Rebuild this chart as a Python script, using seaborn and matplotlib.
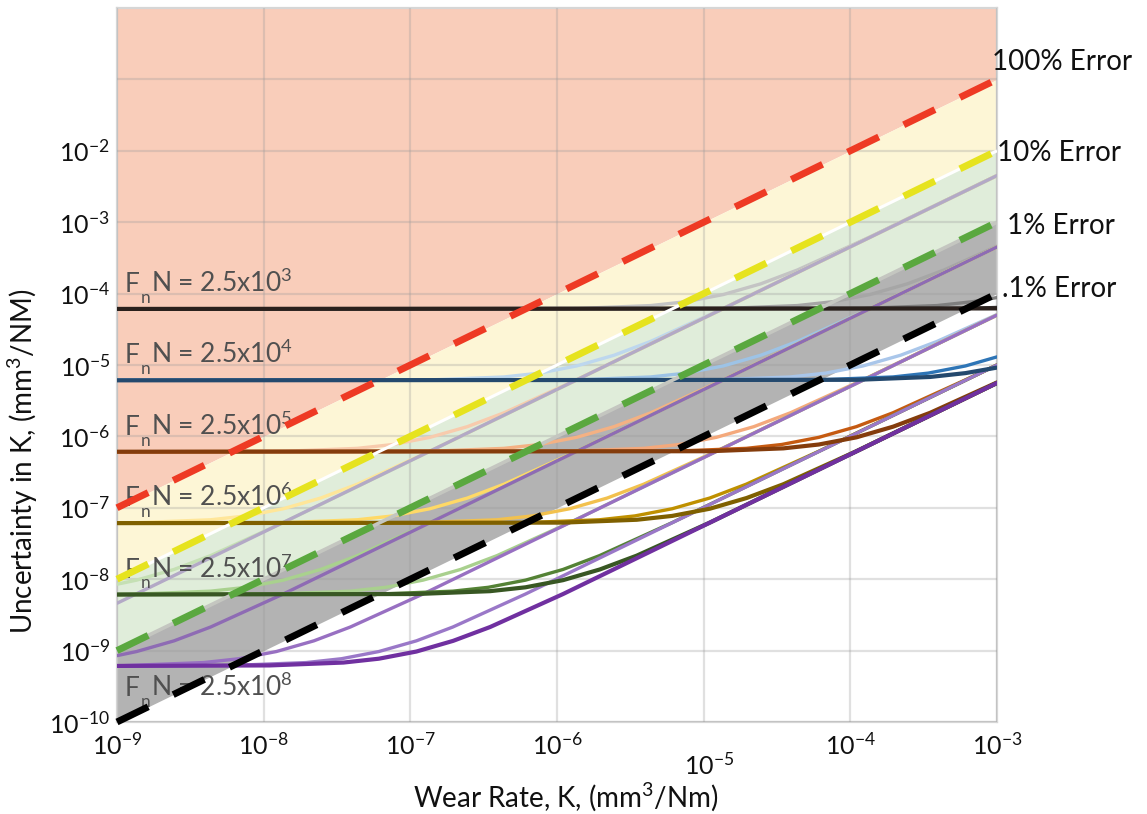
import matplotlib
matplotlib.use("Agg")
import matplotlib.pyplot as plt
import seaborn as sns

# ---------------- data ----------------
k_ref = [1e-9, 1e-3]
err_100 = [1e-7, 1e-1]
err_10 = [1e-8, 1e-2]
err_1 = [1e-9, 1e-3]
err_01 = [1e-10, 1e-4]
err_labels = ["100% Error", "10% Error", "1% Error", ".1% Error"]

x_ticks = [1e-9, 1e-8, 1e-7, 1e-6, 1e-5, 1e-4, 1e-3]
x_exp = ["-9", "-8", "-7", "-6", "-5", "-4", "-3"]
y_ticks = [1e-10, 1e-9, 1e-8, 1e-7, 1e-6, 1e-5, 1e-4, 1e-3, 1e-2, 1e-1]
y_exp = ["-10", "-9", "-8", "-7", "-6", "-5", "-4", "-3", "-2", ""]

load_exp = ["3", "4", "5", "6", "7", "8"]
floors = [6.1e-5, 6.1e-6, 6.1e-7, 6.1e-8, 6.1e-9, 6.1e-10]

# FnN = 2.5x10^3
g0_k = [[1e-9, 1.4e-6, 4.35e-6, 7.6e-6, 1.36e-5, 2.45e-5, 4.35e-5, 1.36e-4, 1e-3],
        [1e-9, 1.4e-5, 4.35e-5, 7.6e-5, 1.36e-4, 2.45e-4, 4.35e-4, 1e-3],
        [1e-9, 1.2e-4, 3.9e-4, 6.8e-4, 1e-3],
        [1e-9, 6.1e-4, 1e-3],
        [1e-9, 1e-3]]
g0_u = [[6.1e-5, 6.2e-5, 6.8e-5, 7.7e-5, 9.7e-5, 1.37e-4, 2.14e-4, 6.2e-4, 4.5e-3],
        [6.1e-5, 6.2e-5, 6.8e-5, 7.7e-5, 9.7e-5, 1.37e-4, 2.14e-4, 4.6e-4],
        [6.1e-5, 6.2e-5, 6.8e-5, 7.7e-5, 8.8e-5],
        [6.1e-5, 6.2e-5, 6.4e-5],
        [6.1e-5, 6.2e-5]]
# FnN = 2.5x10^4
g1_k = [[1e-9, 1.4e-7, 4.35e-7, 7.6e-7, 1.36e-6, 2.45e-6, 4.35e-6, 1.36e-5, 1e-3],
        [1e-9, 1.4e-6, 4.35e-6, 7.6e-6, 1.36e-5, 2.45e-5, 4.35e-5, 1.36e-4, 1e-3],
        [1e-9, 1.2e-5, 3.9e-5, 6.8e-5, 1.22e-4, 2.2e-4, 3.9e-4, 1e-3],
        [1e-9, 6.1e-5, 1.95e-4, 3.4e-4, 6.1e-4, 1e-3],
        [1e-9, 1.1e-4, 3.5e-4, 6.1e-4, 1e-3]]
g1_u = [[6.1e-6, 6.2e-6, 6.8e-6, 7.7e-6, 9.7e-6, 1.37e-5, 2.14e-5, 6.2e-5, 4.5e-3],
        [6.1e-6, 6.2e-6, 6.8e-6, 7.7e-6, 9.7e-6, 1.37e-5, 2.14e-5, 6.2e-5, 4.5e-4],
        [6.1e-6, 6.2e-6, 6.8e-6, 7.7e-6, 9.7e-6, 1.37e-5, 2.14e-5, 5.1e-5],
        [6.1e-6, 6.2e-6, 6.8e-6, 7.7e-6, 9.7e-6, 1.3e-5],
        [6.1e-6, 6.2e-6, 6.8e-6, 7.7e-6, 9.2e-6]]
# FnN = 2.5x10^5
g2_k = [[1e-9, 1.4e-8, 4.35e-8, 7.6e-8, 1.36e-7, 2.45e-7, 4.35e-7, 1.36e-6, 1e-3],
        [1e-9, 1.4e-7, 4.35e-7, 7.6e-7, 1.36e-6, 2.45e-6, 4.35e-6, 1.36e-5, 1e-3],
        [1e-9, 1.2e-6, 3.9e-6, 6.8e-6, 1.22e-5, 2.2e-5, 3.9e-5, 1.22e-4, 1e-3],
        [1e-9, 6.1e-6, 1.95e-5, 3.4e-5, 6.1e-5, 1.1e-4, 1.95e-4, 6.1e-4, 1e-3],
        [1e-9, 1.1e-5, 3.5e-5, 6.1e-5, 1.1e-4, 1.96e-4, 3.5e-4, 1e-3]]
g2_u = [[6.1e-7, 6.2e-7, 6.8e-7, 7.7e-7, 9.7e-7, 1.37e-6, 2.14e-6, 6.2e-6, 4.5e-3],
        [6.1e-7, 6.2e-7, 6.8e-7, 7.7e-7, 9.7e-7, 1.37e-6, 2.14e-6, 6.2e-6, 4.5e-4],
        [6.1e-7, 6.2e-7, 6.8e-7, 7.7e-7, 9.7e-7, 1.37e-6, 2.14e-6, 6.2e-6, 5e-5],
        [6.1e-7, 6.2e-7, 6.8e-7, 7.7e-7, 9.7e-7, 1.37e-6, 2.14e-6, 6.2e-6, 1e-5],
        [6.1e-7, 6.2e-7, 6.8e-7, 7.7e-7, 9.7e-7, 1.37e-6, 2.14e-6, 5.7e-6]]
# FnN = 2.5x10^6
g3_k = [[1e-9, 1.4e-9, 4.35e-9, 7.6e-9, 1.36e-8, 2.45e-8, 4.35e-8, 1.36e-7, 1e-3],
        [1e-9, 1.4e-8, 4.35e-8, 7.6e-8, 1.36e-7, 2.45e-7, 4.35e-7, 1.36e-6, 1e-3],
        [1e-9, 1.2e-7, 3.9e-7, 6.8e-7, 1.22e-6, 2.2e-6, 3.9e-6, 1.22e-5, 1e-3],
        [1e-9, 6.1e-7, 1.95e-6, 3.4e-6, 6.1e-6, 1.1e-5, 1.95e-5, 6.1e-5, 1e-3],
        [1e-9, 1.1e-6, 3.5e-6, 6.1e-6, 1.1e-5, 1.96e-5, 3.5e-5, 1.1e-4, 1e-3]]
g3_u = [[6.1e-8, 6.2e-8, 6.8e-8, 7.7e-8, 9.7e-8, 1.37e-7, 2.14e-7, 6.2e-7, 4.5e-3],
        [6.1e-8, 6.2e-8, 6.8e-8, 7.7e-8, 9.7e-8, 1.37e-7, 2.14e-7, 6.2e-7, 4.5e-4],
        [6.1e-8, 6.2e-8, 6.8e-8, 7.7e-8, 9.7e-8, 1.37e-7, 2.14e-7, 6.2e-7, 5e-5],
        [6.1e-8, 6.2e-8, 6.8e-8, 7.7e-8, 9.7e-8, 1.37e-7, 2.14e-7, 6.2e-7, 1e-5],
        [6.1e-8, 6.2e-8, 6.8e-8, 7.7e-8, 9.7e-8, 1.37e-7, 2.14e-7, 6.2e-7, 5.6e-6]]
# FnN = 2.5x10^7
g4_k = [[1e-9, 1.36e-9, 2.45e-9, 4.35e-9, 1.36e-8, 1e-3],
        [1e-9, 1.4e-9, 4.35e-9, 7.6e-9, 1.36e-8, 2.45e-8, 4.35e-8, 1.36e-7, 1e-3],
        [1e-9, 1.2e-8, 3.9e-8, 6.8e-8, 1.22e-7, 2.2e-7, 3.9e-7, 1.22e-6, 1e-3],
        [1e-9, 6.1e-8, 1.95e-7, 3.4e-7, 6.1e-7, 1.1e-6, 1.95e-6, 6.1e-6, 1e-3],
        [1e-9, 1.1e-7, 3.5e-7, 6.1e-7, 1.1e-6, 1.96e-6, 3.5e-6, 1.1e-5, 1e-3]]
g4_u = [[8.5e-9, 9.7e-9, 1.37e-8, 2.14e-8, 6.2e-8, 4.5e-3],
        [6.1e-9, 6.2e-9, 6.8e-9, 7.7e-9, 9.7e-9, 1.37e-8, 2.14e-8, 6.2e-8, 4.5e-4],
        [6.1e-9, 6.2e-9, 6.8e-9, 7.7e-9, 9.7e-9, 1.37e-8, 2.14e-8, 6.2e-8, 5e-5],
        [6.1e-9, 6.2e-9, 6.8e-9, 7.7e-9, 9.7e-9, 1.37e-8, 2.14e-8, 6.2e-8, 1e-5],
        [6.1e-9, 6.2e-9, 6.8e-9, 7.7e-9, 9.7e-9, 1.37e-8, 2.14e-8, 6.2e-8, 5.6e-6]]
# FnN = 2.5x10^8
g5_k = [[1e-9, 1e-3],
        [1e-9, 1.36e-9, 2.45e-9, 4.35e-9, 1.36e-8, 1e-3],
        [1e-9, 1.2e-9, 3.9e-9, 6.8e-9, 1.22e-8, 2.2e-8, 3.9e-8, 1.22e-7, 1e-3],
        [1e-9, 6.1e-9, 1.95e-8, 3.4e-8, 6.1e-8, 1.1e-7, 1.95e-7, 6.1e-7, 1e-3],
        [1e-9, 1.1e-8, 3.5e-8, 6.1e-8, 1.1e-7, 1.96e-7, 3.5e-7, 1.1e-6, 1e-3]]
g5_u = [[4.6e-9, 4.5e-3],
        [8.5e-10, 9.7e-10, 1.37e-9, 2.14e-9, 6.2e-9, 4.5e-4],
        [6.1e-10, 6.2e-10, 6.8e-10, 7.7e-10, 9.7e-10, 1.37e-9, 2.14e-9, 6.2e-9, 5e-5],
        [6.1e-10, 6.2e-10, 6.8e-10, 7.7e-10, 9.7e-10, 1.37e-9, 2.14e-9, 6.2e-9, 1e-5],
        [6.1e-10, 6.2e-10, 6.8e-10, 7.7e-10, 9.7e-10, 1.37e-9, 2.14e-9, 6.2e-9, 5.6e-6]]

# ---------------- style ----------------
group_k = [g0_k, g1_k, g2_k, g3_k, g4_k, g5_k]
group_u = [g0_u, g1_u, g2_u, g3_u, g4_u, g5_u]
group_colors = [
    ["#c4c4c4", "#a6a6a6", "#7f7f7f", "#3c3c3c", "#2a201c"],
    ["#bdd7ee", "#9dc3e6", "#a9c6ea", "#2e75b6", "#24496e"],
    ["#f8cbad", "#f4b183", "#f4a97c", "#c55a11", "#843c0c"],
    ["#ffe699", "#ffd966", "#f2c14e", "#bf9000", "#7f6000"],
    ["#c5e0b4", "#a9d18e", "#a9d08e", "#548235", "#385723"],
    ["#b3a9c6", "#8e6bb4", "#9870c2", "#9a78c8", "#7030a0"],
]
TXT = "#111111"
LBL = "#505050"

sns.set_theme(style="white")
plt.rcParams["font.family"] = ["Lato", "DejaVu Sans"]
plt.rcParams["mathtext.default"] = "regular"

W, H = 1147, 814
fig = plt.figure(figsize=(W / 100, H / 100), dpi=100)
ax = fig.add_axes([117 / W, 1 - 722 / H, 880 / W, 714 / H])
ax.set_xscale("log")
ax.set_yscale("log")

# shaded error zones
ax.fill_between(k_ref, err_100, [1, 1], color="#f9cdba", lw=0, zorder=1)
ax.fill_between(k_ref, err_10, err_100, color="#fdf6d6", lw=0, zorder=1)
ax.fill_between(k_ref, err_1, err_10, color="#e0edda", lw=0, zorder=1)
ax.fill_between(k_ref, err_01, err_1, color="#b3b3b3", lw=0, zorder=1)

# uncertainty curves (light -> dark)
for shade in range(5):
    for g in range(6):
        lw = 3.0 if shade == 4 else 2.4
        sns.lineplot(x=group_k[g][shade], y=group_u[g][shade], ax=ax,
                     color=group_colors[g][shade], lw=lw, estimator=None,
                     sort=False, legend=False, zorder=3)

# thin under-lines visible in dash gaps
ax.plot(k_ref, err_10, color="white", lw=2.2, zorder=3.5, solid_capstyle="butt")
ax.plot(k_ref, err_1, color="#c4c6c0", lw=2.6, zorder=3.5, solid_capstyle="butt")

# FnN labels: "F", subscript "n", then "N = 2.5x10^k"
for i, (f, e) in enumerate(zip(floors, load_exp)):
    yb = f * 1.73 if i < 5 else f / 2.65
    t_f = ax.text(1.13e-9, yb, "F", fontsize=19, color=LBL,
                  ha="left", va="baseline", zorder=4)
    t_n = ax.annotate("n", xy=(1, 0), xycoords=t_f, xytext=(0.6, -4.2),
                      textcoords="offset points", fontsize=12.5, color=LBL,
                      ha="left", va="baseline", zorder=4)
    ax.annotate(r"N = 2.5x10$^\mathregular{%s}$" % e, xy=(1, 0),
                xycoords=(t_n, t_f), xytext=(0.6, 0), textcoords="offset points",
                fontsize=19, color=LBL, ha="left", va="bottom", zorder=4)

# error reference dashed lines
for u, c in zip([err_100, err_10, err_1, err_01],
                ["#ee3a24", "#e6e31e", "#5aa83f", "#000000"]):
    ax.plot(k_ref, u, color=c, lw=5, dashes=(5, 4), zorder=5,
            dash_capstyle="butt", clip_on=False)

# axes
ax.set_xlim(1e-9, 1e-3)
ax.set_ylim(1e-10, 1)
ax.set_xticks(x_ticks)
xl = [r"10$^\mathregular{%s}$" % e for e in x_exp]
xl[4] = ""
ax.set_xticklabels(xl)
ax.set_yticks(y_ticks)
ax.set_yticklabels([r"10$^\mathregular{%s}$" % e if e else "" for e in y_exp])
ax.minorticks_off()
ax.tick_params(axis="both", length=0, labelsize=18, colors=TXT)
ax.tick_params(axis="x", pad=7)
ax.tick_params(axis="y", pad=5)
ax.annotate(r"10$^\mathregular{-5}$", xy=(1e-5, 0), xycoords=("data", "axes fraction"),
            xytext=(4, -31), textcoords="offset points", ha="center", va="center",
            fontsize=18, color=TXT, annotation_clip=False)

ax.set_axisbelow(False)
ax.grid(True, which="major", color="#9a9a9a", alpha=0.3, lw=1.6)
for s in ax.spines.values():
    s.set_color("#d6d6d6")
    s.set_linewidth(1.6)

ax.set_xlabel(r"Wear Rate, K, (mm$^\mathregular{3}$/Nm)", fontsize=20, color=TXT)
ax.set_ylabel(r"Uncertainty in K, (mm$^\mathregular{3}$/NM)", fontsize=20, color=TXT)
ax.xaxis.set_label_coords((566 - 117) / 880, (722 - 780) / 714)
ax.yaxis.set_label_coords((40 - 117) / 880, (722 - 461) / 714)

# right-side error labels
for lab, (px, py) in zip(err_labels, [(992, 62), (997, 153), (1007, 226), (1002, 289)]):
    fig.text(px / W, 1 - py / H, lab, fontsize=20, color=TXT,
             ha="left", va="center")

fig.savefig("out.png", dpi=100)
